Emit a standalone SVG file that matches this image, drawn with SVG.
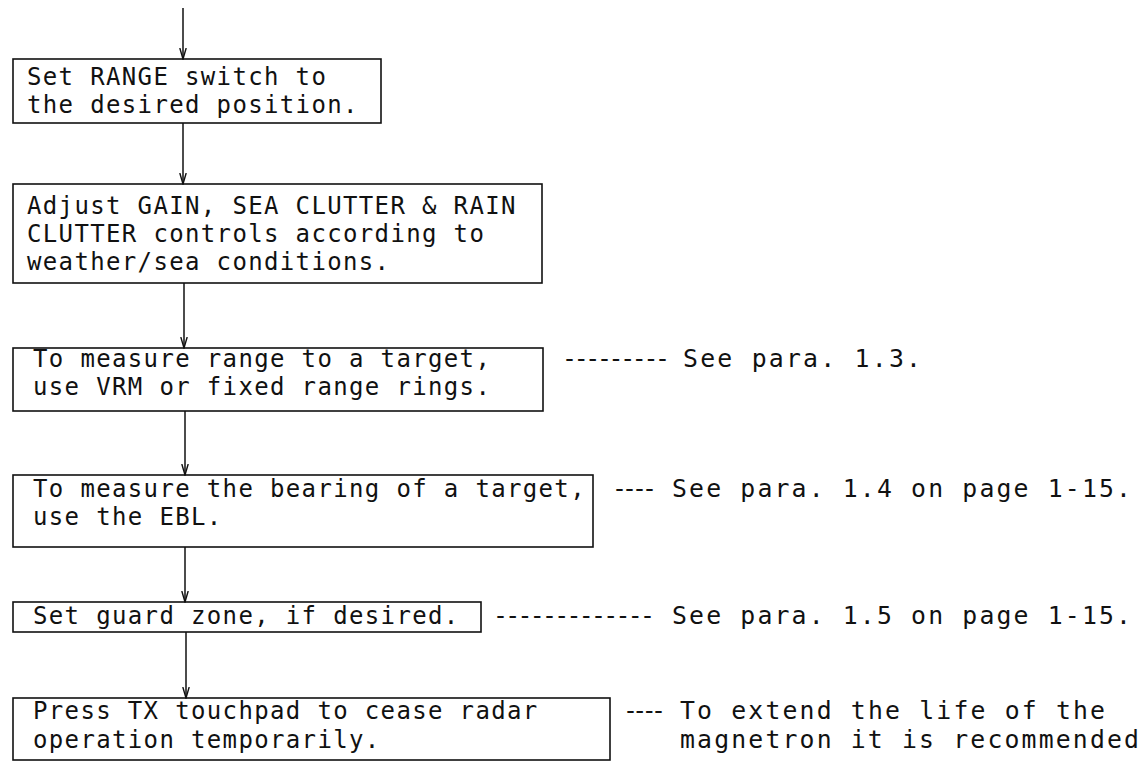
<svg xmlns="http://www.w3.org/2000/svg" width="1141" height="761" viewBox="0 0 1141 761">
<style>
text{font-family:"DejaVu Sans Mono","Liberation Mono",monospace;font-size:24px;letter-spacing:1.35px;fill:#111}
.note{font-size:24.8px;letter-spacing:0}
.box{fill:none;stroke:#111;stroke-width:1.6}
.conn{stroke:#111;stroke-width:1.5;fill:none}
</style>
<defs>
<marker id="ah" markerWidth="12" markerHeight="8" refX="11" refY="4" orient="auto" markerUnits="userSpaceOnUse" viewBox="0 0 12 8">
<polyline points="0,0.8 11,4 0,7.2" fill="none" stroke="#111" stroke-width="1.4"/>
</marker>
</defs>
<rect width="1141" height="761" fill="#fff"/>
<g id="connectors">
<line class="conn" x1="183" y1="8" x2="183" y2="59" marker-end="url(#ah)"/>
<line class="conn" x1="183" y1="123" x2="183" y2="184" marker-end="url(#ah)"/>
<line class="conn" x1="184" y1="283" x2="184" y2="348" marker-end="url(#ah)"/>
<line class="conn" x1="185" y1="411" x2="185" y2="475" marker-end="url(#ah)"/>
<line class="conn" x1="185" y1="547" x2="185" y2="602" marker-end="url(#ah)"/>
<line class="conn" x1="186" y1="632" x2="186" y2="698" marker-end="url(#ah)"/>
</g>
<g id="n1">
<rect class="box" x="13" y="59" width="368" height="64"/>
<text x="27" y="85">Set RANGE switch to</text>
<text x="27" y="113">the desired position.</text>
</g>
<g id="n2">
<rect class="box" x="13" y="184" width="529" height="99"/>
<text x="27" y="214">Adjust GAIN, SEA CLUTTER &amp; RAIN</text>
<text x="27" y="242">CLUTTER controls according to</text>
<text x="27" y="270">weather/sea conditions.</text>
</g>
<g id="n3">
<rect class="box" x="13" y="348" width="530" height="63"/>
<text x="33" y="367">To measure range to a target,</text>
<text x="33" y="395">use VRM or fixed range rings.</text>
</g>
<g id="note3">
<text class="note" x="562" y="367" textLength="108" lengthAdjust="spacing">---------</text>
<text class="note" x="683" y="367" textLength="238" lengthAdjust="spacing">See para. 1.3.</text>
</g>
<g id="n4">
<rect class="box" x="13" y="475" width="580" height="72"/>
<text x="33" y="497">To measure the bearing of a target,</text>
<text x="33" y="525">use the EBL.</text>
</g>
<g id="note4">
<text class="note" x="612" y="497" textLength="45" lengthAdjust="spacing">----</text>
<text class="note" x="672" y="497" textLength="459" lengthAdjust="spacing">See para. 1.4 on page 1-15.</text>
</g>
<g id="n5">
<rect class="box" x="13" y="602" width="468" height="30"/>
<text x="33" y="624">Set guard zone, if desired.</text>
</g>
<g id="note5">
<text class="note" x="493" y="624" textLength="162" lengthAdjust="spacing">-------------</text>
<text class="note" x="672" y="624" textLength="459" lengthAdjust="spacing">See para. 1.5 on page 1-15.</text>
</g>
<g id="n6">
<rect class="box" x="13" y="698" width="597" height="62"/>
<text x="33" y="719">Press TX touchpad to cease radar</text>
<text x="33" y="748">operation temporarily.</text>
</g>
<g id="note6">
<text class="note" x="623" y="719" textLength="43" lengthAdjust="spacing">----</text>
<text class="note" x="680" y="719" textLength="425" lengthAdjust="spacing">To extend the life of the</text>
<text class="note" x="680" y="748" textLength="459" lengthAdjust="spacing">magnetron it is recommended</text>
</g>
</svg>
